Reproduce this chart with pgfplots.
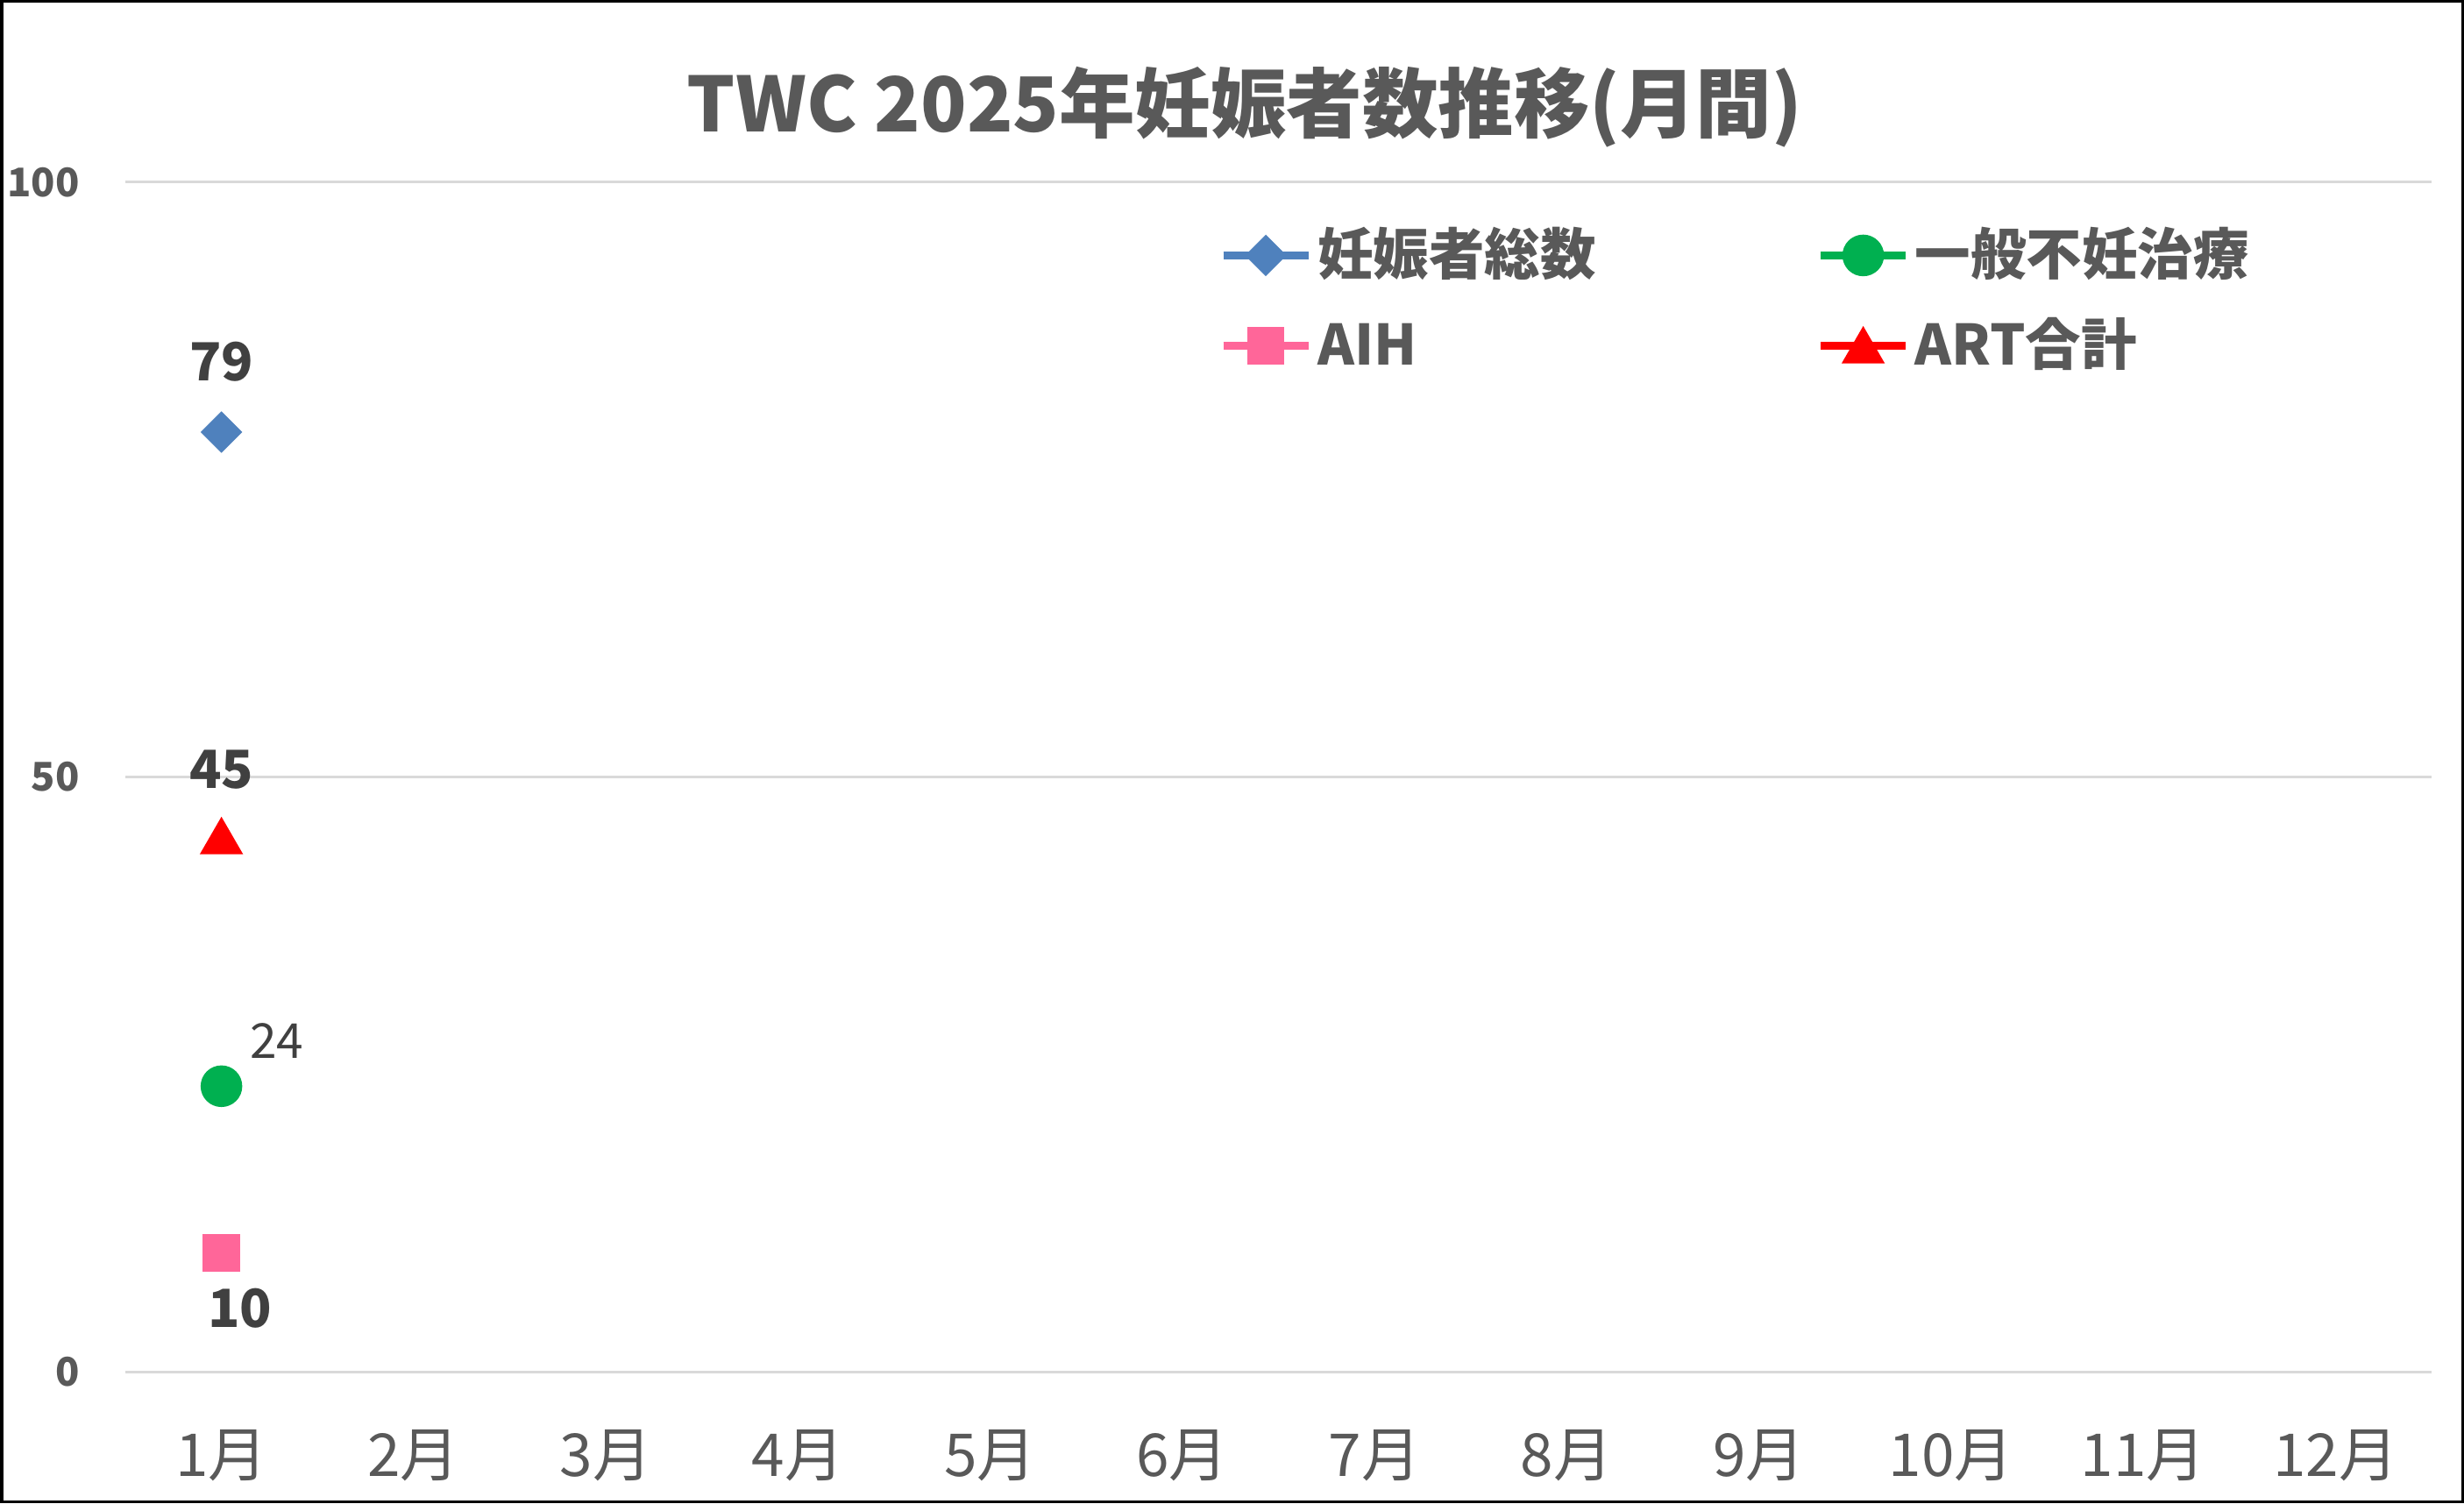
\documentclass[border=0pt]{standalone}
\usepackage{pgfplots}
\pgfplotsset{compat=1.18}
\usepackage{fontspec}
\setmainfont{Noto Sans CJK JP}

\definecolor{txt}{HTML}{595959}
\definecolor{lbl}{HTML}{404040}
\definecolor{gridc}{HTML}{D9D9D9}
\definecolor{sBlue}{HTML}{4F81BD}
\definecolor{sGreen}{HTML}{00B050}
\definecolor{sPink}{HTML}{FF6699}
\definecolor{sRed}{HTML}{FF0000}

\begin{document}
\begin{tikzpicture}
\useasboundingbox (0,0) rectangle (562.2pt,343pt);
\fill[white] (0,0) rectangle (562.2pt,343pt);
\draw[black, line width=0.7pt] (0.35pt,0.35pt) rectangle (561.85pt,342.65pt);
\node[font=\bfseries\fontsize{17.3}{20}\selectfont, text=txt] at (284pt,318.6pt) {TWC 2025年妊娠者数推移(月間)};
\begin{axis}[
  at={(28.6pt,30pt)}, anchor=south west,
  scale only axis, width=526.2pt, height=271.4pt,
  xmin=0.5, xmax=12.5, ymin=0, ymax=100,
  xtick={1,...,12},
  xticklabels={1月,2月,3月,4月,5月,6月,7月,8月,9月,10月,11月,12月},
  ytick={0,50,100},
  ymajorgrids, grid style={gridc, line width=0.6pt},
  axis line style={draw=none},
  major tick length=0pt,
  /pgf/number format/assume math mode=true,
  xticklabel style={font=\fontsize{13.5}{15}\selectfont, text=txt, anchor=center, yshift=-19.1pt},
  yticklabel style={font=\bfseries\fontsize{9}{11}\selectfont, text=txt, anchor=east, inner sep=0pt, xshift=-10.3pt},
  legend columns=2,
  legend style={at={(0.4740,0.9632)}, anchor=north west, draw=none, fill=none,
    inner sep=0pt, font=\bfseries\fontsize{12.7}{15}\selectfont, text=txt,
    row sep=7.6pt,
    nodes={inner sep=0pt, text height=11pt, text depth=2pt},
    /tikz/every odd column/.append style={column sep=1.2pt},
    /tikz/every even column/.append style={column sep=50.4pt}},
  legend cell align=left,
  legend image code/.code={\draw[mark repeat=2,mark phase=2] plot coordinates {(0pt,0pt) (9.7pt,0pt) (19.4pt,0pt)};},
  clip=false,
]
\addplot[color=sBlue, line width=1.8pt, mark=square*, mark size=3.2pt,
  mark options={solid, rotate=45, line width=0.3pt},
  nodes near coords, every node near coord/.append style={font=\bfseries\fontsize{12}{14}\selectfont, text=lbl, anchor=center, yshift=16pt}]
  coordinates {(1,79)};
\addlegendentry{妊娠者総数}
\addplot[color=sGreen, line width=1.8pt, mark=*, mark size=4.6pt,
  mark options={solid, line width=0.3pt},
  nodes near coords, every node near coord/.append style={font=\fontsize{11}{13}\selectfont, text=lbl, anchor=center, xshift=12.6pt, yshift=10.4pt}]
  coordinates {(1,24)};
\addlegendentry{一般不妊治療}
\addplot[color=sPink, line width=1.8pt, mark=square*, mark size=4.1pt,
  mark options={solid, line width=0.3pt},
  nodes near coords, every node near coord/.append style={font=\bfseries\fontsize{12}{14}\selectfont, text=lbl, anchor=center, xshift=4.2pt, yshift=-12.7pt}]
  coordinates {(1,10)};
\addlegendentry{AIH}
\addplot[color=sRed, line width=1.8pt, mark=triangle*, mark size=5.4pt,
  mark options={solid, line width=0.3pt, yshift=-1.2pt},
  nodes near coords, every node near coord/.append style={font=\bfseries\fontsize{12}{14}\selectfont, text=lbl, anchor=center, yshift=16.4pt}]
  coordinates {(1,45)};
\addlegendentry{ART合計}
\end{axis}
\end{tikzpicture}
\end{document}
